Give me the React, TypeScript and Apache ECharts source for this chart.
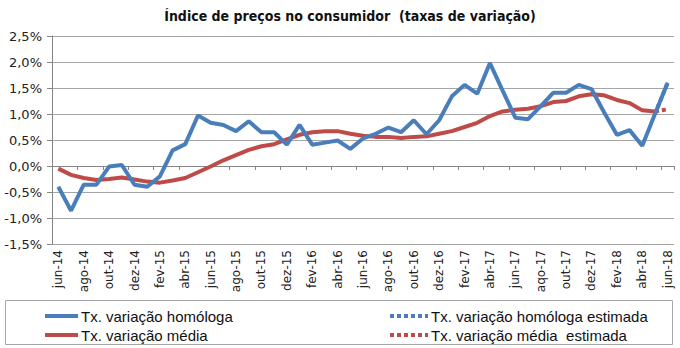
import React, { useEffect, useRef } from "react";
import * as echarts from "echarts";

const categories = [
  "jun-14", "jul-14", "ago-14", "set-14", "out-14", "nov-14", "dez-14",
  "jan-15", "fev-15", "mar-15", "abr-15", "mai-15", "jun-15", "jul-15", "ago-15", "set-15", "out-15", "nov-15", "dez-15",
  "jan-16", "fev-16", "mar-16", "abr-16", "mai-16", "jun-16", "jul-16", "ago-16", "set-16", "out-16", "nov-16", "dez-16",
  "jan-17", "fev-17", "mar-17", "abr-17", "mai-17", "jun-17", "jul-17", "aqo-17", "set-17", "out-17", "nov-17", "dez-17",
  "jan-18", "fev-18", "mar-18", "abr-18", "mai-18", "jun-18",
];

const homologa = [
  -0.40, -0.86, -0.36, -0.36, -0.01, 0.02, -0.36,
  -0.40, -0.20, 0.30, 0.42, 0.97, 0.83, 0.79, 0.67, 0.86, 0.65, 0.65, 0.41,
  0.79, 0.41, 0.45, 0.49, 0.33, 0.53, 0.62, 0.74, 0.65, 0.88, 0.61, 0.88,
  1.34, 1.56, 1.39, 1.98, 1.45, 0.93, 0.90, 1.15, 1.41, 1.41, 1.56, 1.48,
  1.03, 0.60, 0.69, 0.39, 1.00, 1.60,
];

const media = [
  -0.05, -0.17, -0.23, -0.27, -0.25, -0.22, -0.26,
  -0.30, -0.32, -0.28, -0.23, -0.12, -0.01, 0.11, 0.21, 0.31, 0.38, 0.42, 0.51,
  0.60, 0.65, 0.67, 0.67, 0.62, 0.58, 0.56, 0.56, 0.54, 0.56, 0.57, 0.62,
  0.67, 0.75, 0.83, 0.96, 1.05, 1.08, 1.10, 1.15, 1.23, 1.25, 1.34, 1.38,
  1.36, 1.27, 1.21, 1.07, 1.05,
];

// estimated segments: [category, value]
const homologaEstimada: [string, number][] = [["mai-18", 1.00], ["jun-18", 1.60]];
const mediaEstimada: [string, number][] = [["mai-18", 1.05], ["jun-18", 1.09]];

const yTicks = { min: -1.5, max: 2.5, interval: 0.5 };

const BLUE = "#4a7ebb";
const RED = "#be4b48";
const GRID = "#a6a6a6";

const names = [
  "Tx. variação homóloga",
  "Tx. variação média",
  "Tx. variação homóloga estimada",
  "Tx. variação média  estimada",
];

export default function App() {
  const ref = useRef<HTMLDivElement>(null);
  useEffect(() => {
    document.body.style.margin = "0";
    const chart = echarts.init(ref.current!, null, { renderer: "svg" });
    const legendFont = "'Liberation Sans', Arial, sans-serif";
    const legendItem = (x: number, y: number, w: number, color: string, dashed: boolean, label: string) => [
      {
        type: "line",
        shape: { x1: x, y1: y, x2: x + w, y2: y },
        style: { stroke: color, lineWidth: 4, lineDash: dashed ? [4, 3] : null },
        silent: true,
      },
      {
        type: "text",
        x: x + w + 3,
        y: y,
        style: {
          text: label,
          fontFamily: legendFont,
          fontSize: 15,
          fill: "#111",
          verticalAlign: "middle",
          align: "left",
        },
        silent: true,
      },
    ];
    chart.setOption({
      animation: false,
      title: {
        text: "Índice de preços no consumidor  (taxas de variação)",
        left: 345,
        top: 4,
        textAlign: "center",
        textStyle: {
          fontFamily: "'Liberation Sans Narrow', 'DejaVu Sans Condensed', sans-serif",
          fontSize: 14,
          fontWeight: "bold",
          color: "#111",
        },
      },
      grid: { left: 52, right: 6, top: 36, bottom: 104 },
      graphic: [
        {
          type: "rect",
          shape: { x: 5.5, y: 300.5, width: 667, height: 44 },
          style: { fill: "none", stroke: GRID, lineWidth: 1 },
          silent: true,
        },
        ...legendItem(45, 316, 33, BLUE, false, names[0]),
        ...legendItem(45, 335, 33, RED, false, names[1]),
        ...legendItem(390, 316, 38, BLUE, true, names[2]),
        ...legendItem(390, 335, 38, RED, true, names[3]),
      ],
      xAxis: [
        {
          type: "category",
          data: categories,
          boundaryGap: true,
          axisLine: { onZero: true, lineStyle: { color: "#868686" } },
          axisTick: { show: true, interval: 1, length: 4, lineStyle: { color: "#868686" } },
          axisLabel: { show: false },
          splitLine: { show: false },
        },
        {
          type: "category",
          data: categories,
          boundaryGap: true,
          position: "bottom",
          axisLine: { show: false, onZero: false },
          axisTick: { show: false },
          axisLabel: {
            interval: 1,
            rotate: 90,
            margin: 6,
            fontFamily: "'DejaVu Sans', Verdana, sans-serif",
            fontSize: 12,
            color: "#222",
          },
        },
      ],
      yAxis: {
        type: "value",
        min: yTicks.min,
        max: yTicks.max,
        interval: yTicks.interval,
        axisLine: { show: true, lineStyle: { color: "#868686" } },
        axisTick: { show: true, length: 5, lineStyle: { color: "#868686" } },
        splitLine: { lineStyle: { color: GRID, width: 1 } },
        axisLabel: {
          margin: 10,
          fontFamily: "'DejaVu Sans', Verdana, sans-serif",
          fontSize: 13,
          color: "#222",
          formatter: (v: number) => v.toFixed(1).replace(".", ",") + "%",
        },
      },
      series: [
        {
          name: names[2],
          type: "line",
          xAxisIndex: 0,
          data: homologaEstimada,
          symbol: "none",
          z: 1,
          lineStyle: { color: BLUE, width: 4, type: [4, 3] },
          itemStyle: { color: BLUE },
        },
        {
          name: names[3],
          type: "line",
          xAxisIndex: 0,
          data: mediaEstimada,
          symbol: "none",
          z: 1,
          lineStyle: { color: RED, width: 4, type: [4, 3] },
          itemStyle: { color: RED },
        },
        {
          name: names[1],
          type: "line",
          xAxisIndex: 0,
          data: media,
          symbol: "none",
          z: 2,
          lineStyle: { color: RED, width: 4 },
          itemStyle: { color: RED },
        },
        {
          name: names[0],
          type: "line",
          xAxisIndex: 0,
          data: homologa,
          symbol: "none",
          z: 3,
          lineStyle: { color: BLUE, width: 4 },
          itemStyle: { color: BLUE },
        },
      ],
    });
    return () => chart.dispose();
  }, []);
  return <div ref={ref} style={{ width: 680, height: 348 }} />;
}
